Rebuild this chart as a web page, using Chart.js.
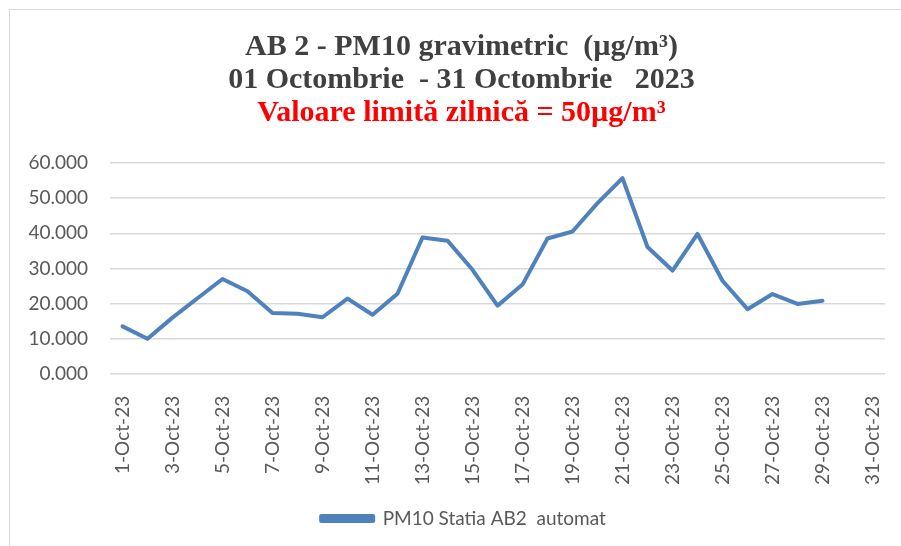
<!DOCTYPE html>
<html>
<head>
<meta charset="utf-8">
<script src="https://cdn.jsdelivr.net/npm/chart.js@4"></script>
<style>
  html, body { margin: 0; padding: 0; background: #ffffff; overflow: hidden; }
  #frame { position: absolute; left: 9px; top: 9px; width: 1000px; height: 1000px; border: 1.5px solid #d9d9d9; }
  #wrap { position: absolute; left: 0; top: 0; width: 901px; height: 546px; }
</style>
</head>
<body>
<div id="frame"></div>
<div id="wrap"><canvas id="grafico"></canvas></div>
<script>
// zile (categorii)
const zile = [
  '1-Oct-23', '2-Oct-23', '3-Oct-23', '4-Oct-23', '5-Oct-23', '6-Oct-23', '7-Oct-23', '8-Oct-23',
  '9-Oct-23', '10-Oct-23', '11-Oct-23', '12-Oct-23', '13-Oct-23', '14-Oct-23', '15-Oct-23', '16-Oct-23',
  '17-Oct-23', '18-Oct-23', '19-Oct-23', '20-Oct-23', '21-Oct-23', '22-Oct-23', '23-Oct-23', '24-Oct-23',
  '25-Oct-23', '26-Oct-23', '27-Oct-23', '28-Oct-23', '29-Oct-23', '30-Oct-23', '31-Oct-23'
];

// PM10 (µg/m³) - ultimele doua zile fara date
const pm10 = [
  13.5, 10.0, 16.0, 21.5, 27.0, 23.5, 17.3, 17.1, 16.1, 21.4, 16.8, 22.8, 38.8, 37.9, 29.6, 19.4,
  25.4, 38.5, 40.5, 48.6, 55.7, 36.1, 29.4, 39.8, 26.5, 18.4, 22.7, 19.9, 20.8, null, null
];

const titlu = ['AB 2 - PM10 gravimetric  (\u00b5g/m\u00b3)', '01 Octombrie  - 31 Octombrie   2023'];
const subtitlu = 'Valoare limit\u0103 zilnic\u0103 = 50\u00b5g/m\u00b3';
const numeSerie = 'PM10 Statia AB2  automat';

const yMin = 0, yMax = 60, yPas = 10;

let chart;

// muta titlul si legenda putin spre dreapta, ca in original
const mutaBlocuri = {
  id: 'mutaBlocuri',
  afterLayout(c) {
    c.boxes.forEach(function (b) {
      if (b.position === 'top') { b.left += 14; b.right += 14; }
    });
    if (c.legend) { c.legend.left += 16; c.legend.right += 16; }
  }
};

function criarGrafico() {
  const ctx = document.getElementById('grafico').getContext('2d');
  const fontTitlu = { family: "'Liberation Serif', 'Times New Roman', serif", size: 30, weight: 'bold', lineHeight: '33px' };

  chart = new Chart(ctx, {
    type: 'line',
    data: {
      labels: zile,
      datasets: [{
        label: numeSerie,
        data: pm10,
        borderColor: '#4f81bd',
        backgroundColor: '#4f81bd',
        borderWidth: 4,
        pointRadius: 0,
        tension: 0,
        borderJoinStyle: 'round',
        borderCapStyle: 'round',
        spanGaps: false
      }]
    },
    options: {
      responsive: true,
      maintainAspectRatio: false,
      animation: false,
      layout: { padding: { left: 10, right: 16, top: 0, bottom: 8 } },
      plugins: {
        title: {
          display: true,
          text: titlu,
          color: '#404040',
          font: fontTitlu,
          padding: { top: 30.5, bottom: 0 }
        },
        subtitle: {
          display: true,
          text: subtitlu,
          color: '#ff0000',
          font: fontTitlu,
          padding: { top: 0, bottom: 33.5 }
        },
        legend: {
          position: 'bottom',
          labels: {
            color: '#595959',
            font: { family: 'Lato', size: 19 },
            boxWidth: 52,
            boxHeight: 5,
            padding: 10
          }
        },
        tooltip: { enabled: false }
      },
      scales: {
        x: {
          offset: true,
          grid: { display: false },
          border: { display: false },
          ticks: {
            color: '#595959',
            font: { family: 'Lato', size: 19 },
            autoSkip: false,
            minRotation: 90,
            maxRotation: 90,
            padding: 14,
            callback: function (v, i) { return i % 2 === 0 ? zile[i] : ''; }
          },
          afterFit: function (s) { s.paddingLeft = 0; s.paddingRight = 0; }
        },
        y: {
          min: yMin,
          max: yMax,
          border: { display: false },
          grid: { color: '#d9d9d9', lineWidth: 1.5, drawTicks: false },
          ticks: {
            stepSize: yPas,
            color: '#595959',
            font: { family: 'Lato', size: 19 },
            padding: 22,
            callback: function (v) { return v.toFixed(3); }
          },
          afterFit: function (s) { s.width = 100; }
        }
      }
    },
    plugins: [mutaBlocuri]
  });
}

window.onload = function () {
  criarGrafico();
};
</script>
</body>
</html>
